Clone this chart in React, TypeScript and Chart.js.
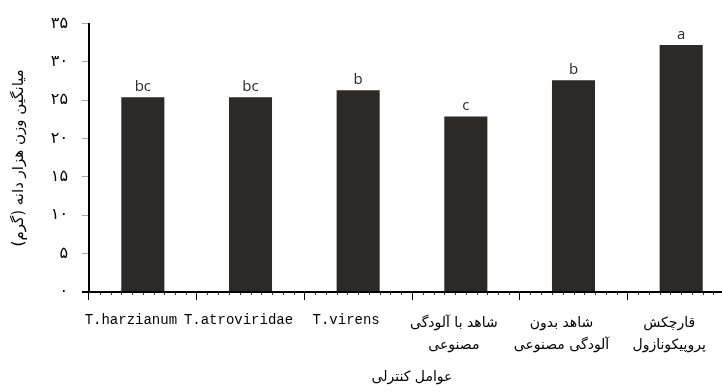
import { useEffect, useRef } from 'react';
import { Chart, registerables } from 'chart.js';

Chart.register(...registerables);

// Control treatments (multi-line labels are arrays of lines)
const categories: (string | string[])[] = [
  'T.harzianum',
  'T.atroviridae',
  'T.virens',
  ['شاهد با آلودگی', 'مصنوعی'],
  ['شاهد بدون', 'آلودگی مصنوعی'],
  ['قارچکش', 'پروپیکونازول'],
];

// Mean thousand-grain weight (g)
const meanWeight = [25.4, 25.4, 26.3, 22.9, 27.6, 32.2];

// Mean-separation letters shown above each bar
const groupLetters = ['bc', 'bc', 'b', 'c', 'b', 'a'];

const yTickLabels = ['۰', '۵', '۱۰', '۱۵', '۲۰', '۲۵', '۳۰', '۳۵'];
const yTitle = 'میانگین وزن هزار دانه (گرم)\u200F';
const xTitle = 'عوامل کنترلی';

const PERSIAN_FONT = "'DejaVu Sans', 'Noto Sans', sans-serif";
const MONO_FONT = "'Liberation Mono', 'DejaVu Sans Mono', monospace";

const decorations = {
  id: 'decorations',
  afterDatasetsDraw(chart: any) {
    const { ctx, chartArea } = chart;
    const xs = chart.scales.x;
    const base = chartArea.bottom;
    ctx.save();

    // small subdivision ticks along the category axis
    ctx.strokeStyle = '#333';
    ctx.lineWidth = 1;
    for (let i = 0; i < categories.length; i++) {
      for (let j = 1; j < 10; j++) {
        const px = Math.round(xs.getPixelForValue(i - 0.5 + j / 10)) + 0.5;
        ctx.beginPath();
        ctx.moveTo(px, base);
        ctx.lineTo(px, base + 3);
        ctx.stroke();
      }
    }

    // baseline drawn over the bar bottoms, running a little past the y axis
    ctx.strokeStyle = '#000';
    ctx.lineWidth = 2;
    ctx.beginPath();
    ctx.moveTo(chartArea.left - 7, base);
    ctx.lineTo(chartArea.right, base);
    ctx.stroke();

    // letters above bars
    const meta = chart.getDatasetMeta(0);
    ctx.fillStyle = '#2a2a2a';
    ctx.font = "15px 'Open Sans', 'DejaVu Sans', sans-serif";
    ctx.textAlign = 'center';
    ctx.textBaseline = 'alphabetic';
    meta.data.forEach((bar: any, i: number) => {
      ctx.fillText(groupLetters[i], bar.x, bar.y - 6);
    });
    ctx.restore();
  },
};

export default function App() {
  const canvasRef = useRef<HTMLCanvasElement | null>(null);

  useEffect(() => {
    const canvas = canvasRef.current;
    if (!canvas) return;
    const chart = new Chart(canvas, {
      type: 'bar',
      data: {
        labels: categories,
        datasets: [
          {
            data: meanWeight,
            backgroundColor: '#2d2926',
            borderWidth: 0,
            categoryPercentage: 1,
            barPercentage: 0.4,
          },
        ],
      },
      options: {
        responsive: false,
        animation: false,
        layout: { padding: { left: 0, right: 10, top: 20, bottom: 0 } },
        plugins: {
          legend: { display: false },
          tooltip: { enabled: false },
        },
        scales: {
          x: {
            afterFit: (scale: any) => {
              scale.height = 100;
            },
            grid: {
              display: true,
              offset: true,
              drawOnChartArea: false,
              drawTicks: true,
              tickLength: 8,
              color: '#000',
              lineWidth: 1,
            },
            border: { display: true, color: '#000', width: 2 },
            ticks: {
              color: '#000',
              padding: 12,
              labelOffset: -12,
              maxRotation: 0,
              autoSkip: false,
              font: (c: any) =>
                c.index < 3
                  ? { family: MONO_FONT, size: 14, lineHeight: '16px' }
                  : { family: PERSIAN_FONT, size: 14, lineHeight: '22px' },
            },
            title: {
              display: true,
              text: xTitle,
              color: '#000',
              font: { family: PERSIAN_FONT, size: 14, lineHeight: 1.2 },
              padding: { top: 0, bottom: 6 },
            },
          },
          y: {
            min: 0,
            max: 35,
            afterFit: (scale: any) => {
              scale.width = 89;
            },
            grid: {
              display: true,
              drawOnChartArea: false,
              drawTicks: true,
              tickLength: 7,
              color: '#aaa',
              lineWidth: 1,
            },
            border: { display: true, color: '#000', width: 2 },
            ticks: {
              stepSize: 5,
              padding: 14,
              color: '#000',
              font: { family: PERSIAN_FONT, size: 16 },
              callback: (value: any) => yTickLabels[Math.round(Number(value) / 5)] ?? '',
            },
            title: {
              display: true,
              text: yTitle,
              color: '#000',
              font: { family: PERSIAN_FONT, size: 15, lineHeight: 1.2 },
              padding: { top: 10, bottom: 0 },
            },
          },
        },
      },
      plugins: [decorations],
    });
    return () => chart.destroy();
  }, []);

  return (
    <div
      style={{
        position: 'fixed',
        left: 0,
        top: 0,
        width: 722,
        height: 392,
        overflow: 'hidden',
        background: '#fff',
      }}
    >
      <canvas ref={canvasRef} width={745} height={392} style={{ width: 745, height: 392, display: 'block' }} />
    </div>
  );
}
